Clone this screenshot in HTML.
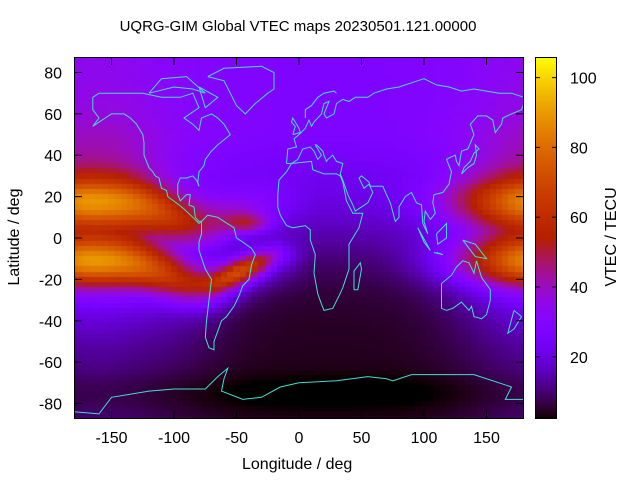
<!DOCTYPE html>
<html><head><meta charset="utf-8"><style>
body{margin:0;width:640px;height:480px;background:#fff;overflow:hidden;font-family:"Liberation Sans",sans-serif;position:relative}
.t{position:absolute;font-size:16px;color:#000;white-space:nowrap}
</style></head><body>
<div class="t" style="left:0;width:596px;text-align:center;top:18px;font-size:15px">UQRG-GIM Global VTEC maps 20230501.121.00000</div>
<canvas id="c" width="450" height="362" style="position:absolute;left:74px;top:57px"></canvas>
<canvas id="cb" width="22" height="362" style="position:absolute;left:535px;top:57px"></canvas>
<svg id="s" width="640" height="480" style="position:absolute;left:0;top:0"></svg>
<div class="t" style="left:242px;top:456px">Longitude / deg</div>
<div class="t" style="top:228px;transform:rotate(-90deg);width:100px;text-align:center;left:-35px">Latitude / deg</div>
<div class="t" style="left:562px;top:228px;transform:rotate(-90deg);width:100px;text-align:center">VTEC / TECU</div>
<script>
function cmap(x){x=Math.max(0,Math.min(1,x));var r=Math.sqrt(x),g=x*x*x,b=Math.max(0,Math.sin(2*Math.PI*x));return 'rgb('+Math.round(r*255)+','+Math.round(g*255)+','+Math.round(b*255)+')';}
var vmin=2.2,vmax=105.9;
function tec(lon,lat){
 var LT=((lon/15)%24+24)%24;var h=LT-13;if(h>12)h-=24;if(h<-12)h+=24;
 var taper=1-Math.pow(h/12,4);
 var dayB=(h<0?Math.exp(-Math.pow(h/4.5,2)):Math.exp(-Math.pow(h/5.5,2)))*taper;
 var dayC=(h<0?Math.exp(-Math.pow(h/4.5,2)):Math.exp(-Math.pow(h/9,2)))*taper;
 var eq=3-11*Math.exp(-Math.pow((lon+75)/40,2));var m=lat-eq;
 var crest=Math.exp(-Math.pow((Math.abs(m)-15)/11,2));
 crest*= m<0?1.0:0.78;
 var latc=-22+14*Math.max(0,Math.min(1,(lon+70)/55));
 var ev=Math.exp(-Math.pow((lon+45)/28,2));
 var ps=42*ev*Math.exp(-Math.pow((lat-latc)/6,2))+22*Math.exp(-Math.pow((lon+40)/18,2))*Math.exp(-Math.pow((lat-7)/5,2));
 var night=14+10*Math.tanh(lat/25);
 night-=3*Math.exp(-Math.pow((lat+75)/10,2));
 var v=night+dayB*(30*Math.exp(-Math.pow(m/38,2))+6)+dayC*48*crest+ps;
 v+=4*Math.max(0,Math.min(1,(lat-30)/20));
 return v;}
var c=document.getElementById('c').getContext('2d');
var cw=450/72,ch=362/70;
for(var i=0;i<=72;i++)for(var j=0;j<=70;j++){var lon=-180+5*i,lat=87.5-2.5*j;
 c.fillStyle=cmap((tec(lon,lat)-vmin)/(vmax-vmin));
 c.fillRect(Math.round((i-0.5)*cw),Math.round((j-0.5)*ch),Math.ceil(cw)+1,Math.ceil(ch)+1);}
var b=document.getElementById('cb').getContext('2d');
for(var y=0;y<362;y++){b.fillStyle=cmap(1-y/361);b.fillRect(0,y,22,1);}
var S=document.getElementById('s'),out='';
function X(l){return 74+1.25*(l+180)}function Y(l){return 238-2.069*l}
var coasts=[
[[-165,68],[-160,70],[-140,70],[-125,70],[-110,68],[-95,68],[-85,70],[-80,63],[-92,58],[-85,55],[-80,52],[-78,58],[-70,60],[-65,58],[-60,55],[-55,50],[-65,45],[-70,42],[-75,38],[-76,35],[-80,32],[-81,27],[-80,25],[-82,28],[-85,30],[-90,29],[-95,29],[-97,26],[-97,21],[-95,18],[-90,21],[-87,21],[-88,16],[-84,15],[-83,10],[-80,8],[-78,8],[-80,7],[-85,10],[-92,14],[-96,16],[-105,20],[-106,23],[-110,24],[-112,29],[-115,30],[-117,32],[-120,34],[-124,40],[-124,46],[-125,50],[-130,55],[-135,58],[-140,60],[-150,60],[-155,58],[-160,56],[-165,54],[-160,58],[-165,62],[-165,66],[-165,68]],
[[-78,8],[-73,11],[-65,10],[-60,8],[-52,5],[-50,0],[-45,-2],[-38,-5],[-35,-8],[-38,-13],[-40,-20],[-45,-23],[-48,-28],[-52,-33],[-58,-38],[-62,-40],[-65,-45],[-68,-50],[-68,-54],[-72,-53],[-75,-48],[-74,-40],[-72,-30],[-70,-20],[-75,-15],[-80,-6],[-80,-2],[-78,2],[-78,8]],
[[-17,21],[-16,28],[-10,32],[-6,36],[10,37],[11,33],[20,31],[30,31],[33,30],[35,27],[38,18],[43,12],[51,12],[48,5],[40,-3],[40,-15],[35,-24],[32,-28],[27,-34],[20,-35],[18,-32],[15,-27],[12,-17],[13,-8],[9,-1],[9,4],[5,6],[-5,5],[-10,6],[-15,11],[-17,15],[-17,21]],
[[-10,36],[-9,43],[-2,44],[-4,48],[0,50],[5,53],[8,57],[10,54],[12,56],[18,60],[20,65],[24,66],[20,60],[22,58],[28,60],[30,65],[35,67],[40,66],[45,68],[55,68],[60,70],[70,72],[80,73],[90,75],[100,77],[110,74],[120,73],[130,71],[140,72],[150,71],[160,70],[170,70],[180,68]],
[[180,65],[178,62],[170,60],[163,58],[162,55],[157,51],[155,57],[150,59],[143,59],[137,55],[140,50],[135,43],[130,42],[128,35],[126,37],[125,40],[121,39],[118,38],[122,32],[120,26],[115,22],[108,21],[107,17],[109,12],[105,9],[101,13],[100,8],[103,2],[99,7],[98,16],[94,17],[90,22],[85,20],[80,15],[80,10],[77,8],[73,17],[70,21],[67,25],[57,25],[56,27],[50,30],[48,29],[52,24],[56,26],[59,22],[55,17],[45,13],[43,16],[39,21],[35,28],[33,31],[35,36],[30,37],[27,40],[23,38],[22,37],[20,40],[19,42],[14,45],[13,45],[16,42],[18,40],[15,38],[12,42],[9,44],[3,43],[-1,38],[-6,36],[-10,36]],
[[5,58],[5,62],[10,64],[15,68],[20,70],[28,71],[30,70]],
[[114,-22],[114,-34],[118,-35],[123,-34],[130,-31],[136,-35],[138,-33],[140,-38],[146,-39],[150,-37],[153,-30],[153,-25],[146,-19],[142,-11],[140,-17],[136,-12],[131,-11],[126,-14],[122,-18],[114,-22]],
[[-180,-84],[-160,-85],[-150,-77],[-120,-74],[-100,-73],[-75,-73],[-65,-67],[-57,-63],[-60,-68],[-62,-74],[-45,-78],[-30,-77],[-15,-72],[0,-70],[30,-69],[55,-67],[70,-68],[75,-69],[90,-66],[110,-66],[140,-66],[160,-70],[170,-72],[165,-78],[180,-78]],
[[-73,78],[-60,82],[-30,83],[-20,80],[-20,72],[-25,70],[-35,65],[-43,60],[-50,64],[-55,70],[-60,76],[-73,78]],
[[44,-25],[47,-25],[50,-15],[49,-12],[44,-16],[44,-25]],
[[-5,50],[1,51],[0,53],[-3,56],[-5,58],[-6,56],[-3,54],[-5,50]],
[[130,31],[135,34],[140,36],[142,40],[141,45],[144,43],[140,41],[137,37],[132,34],[130,31]],
[[95,5],[105,-6],[100,-2],[95,5]],[[108,-7],[115,-8],[110,-7]],[[110,2],[118,7],[118,0],[111,-3],[110,2]],[[131,-1],[141,-3],[150,-10],[141,-9],[131,-1]],
[[-120,70],[-100,73],[-85,72],[-75,70],[-90,78],[-110,77],[-120,70]],[[-80,73],[-65,68],[-75,63],[-80,73]],
[[172,-35],[178,-38],[172,-44],[167,-46],[172,-35]]];
coasts.forEach(function(p){out+='<polyline fill="none" stroke="#40e0d0" stroke-width="1" points="'+p.map(function(q){return X(q[0]).toFixed(1)+','+Y(q[1]).toFixed(1)}).join(' ')+'"/>';});
out+='<rect x="74.5" y="57.5" width="449" height="361" fill="none" stroke="#000"/>';
out+='<rect x="535.5" y="57.5" width="21" height="361" fill="none" stroke="#000"/>';
[-150,-100,-50,0,50,100,150].forEach(function(l){var x=X(l);out+='<line x1="'+x+'" y1="419" x2="'+x+'" y2="411" stroke="#000"/><line x1="'+x+'" y1="57" x2="'+x+'" y2="65" stroke="#000"/><text x="'+x+'" y="443" font-size="16" text-anchor="middle" font-family="Liberation Sans">'+l+'</text>';});
[-80,-60,-40,-20,0,20,40,60,80].forEach(function(l){var y=Y(l);out+='<line x1="74" y1="'+y+'" x2="82" y2="'+y+'" stroke="#000"/><line x1="524" y1="'+y+'" x2="516" y2="'+y+'" stroke="#000"/><text x="62" y="'+(y+6)+'" font-size="16" text-anchor="end" font-family="Liberation Sans">'+l+'</text>';});
[20,40,60,80,100].forEach(function(v){var y=57+(105.9-v)*3.49;out+='<line x1="535" y1="'+y+'" x2="540" y2="'+y+'" stroke="#000"/><line x1="557" y1="'+y+'" x2="552" y2="'+y+'" stroke="#000"/><text x="570" y="'+(y+6)+'" font-size="16" font-family="Liberation Sans">'+v+'</text>';});
S.innerHTML=out;
</script>
</body></html>
